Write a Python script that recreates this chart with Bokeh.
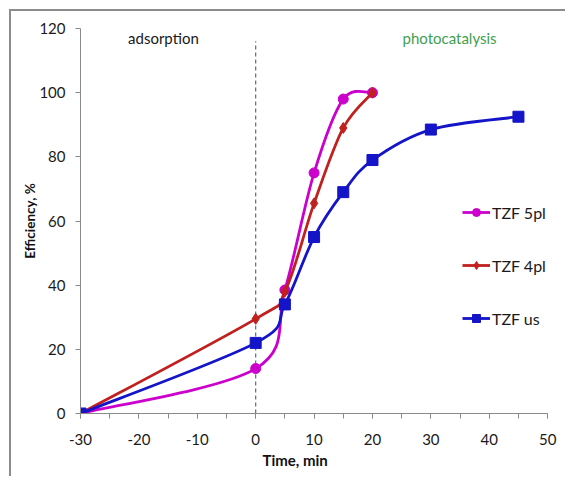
import numpy as np
from bokeh.plotting import figure
from bokeh.models import (Legend, LegendItem, Label, FixedTicker, Range1d,
                          CustomJSTickFormatter, Title)
from bokeh.embed import file_html
from bokeh.resources import INLINE

# ---- data ----
time_5pl = [-30, 0, 5, 10, 15, 20]
eff_5pl = [0, 14, 38.5, 75, 98, 100]
time_4pl = [-30, 0, 5, 10, 15, 20]
eff_4pl = [0, 29.5, 38, 65.5, 89, 100]
time_us = [-30, 0, 5, 10, 15, 20, 30, 45]
eff_us = [0, 22, 34, 55, 69, 79, 88.5, 92.5]

series_names = ["TZF 5pl", "TZF 4pl", "TZF us"]
x_ticks = [-30, -20, -10, 0, 10, 20, 30, 40, 50]
x_minor_ticks = [-30, -25, -20, -15, -10, -5, 0, 5, 10, 15, 20, 25, 30, 35, 40, 45, 50]
y_ticks = [0, 20, 40, 60, 80, 100, 120]
light_on_time = 0
boundary_top = 116
phase_labels = ["adsorption", "photocatalysis"]
phase_label_x = [-15.8, 33.2]
phase_label_y = 117.0
x_title = "Time, min"
y_title = "Efficiency, %"

FONT = "Lato"


def smooth_segments(xs, ys):
    """Excel-style smoothed line: cubic Bezier control points from neighbours."""
    x = np.asarray(xs, float)
    y = np.asarray(ys, float)
    n = len(x)
    d = dict(x0=[], y0=[], x1=[], y1=[], cx0=[], cy0=[], cx1=[], cy1=[])
    for i in range(n - 1):
        xp, yp = (x[i - 1], y[i - 1]) if i > 0 else (x[i], y[i])
        xn, yn = (x[i + 2], y[i + 2]) if i + 2 < n else (x[i + 1], y[i + 1])
        d["x0"].append(x[i]); d["y0"].append(y[i])
        d["x1"].append(x[i + 1]); d["y1"].append(y[i + 1])
        d["cx0"].append(x[i] + (x[i + 1] - xp) / 6.0)
        d["cy0"].append(y[i] + (y[i + 1] - yp) / 6.0)
        d["cx1"].append(x[i + 1] - (xn - x[i]) / 6.0)
        d["cy1"].append(y[i + 1] - (yn - y[i]) / 6.0)
    return d


# frame spans past x=50 so the legend on the right is not clipped;
# the axis line itself is bounded to -30..50
p = figure(
    width=556, height=467,
    x_range=Range1d(-30, 53.4), y_range=Range1d(0, 120),
    output_backend="svg", toolbar_location=None,
    min_border_left=69, min_border_right=0, min_border_top=17, min_border_bottom=65,
)
p.styles = {
    "margin-left": "9px", "margin-top": "9px",
    "border-left": "2px solid #8c8c8c", "border-top": "2px solid #8c8c8c",
}
p.outline_line_color = None
p.xgrid.visible = False
p.ygrid.visible = False
p.background_fill_color = "white"
p.border_fill_color = "white"

axis_color = "#8a8a8a"
for ax in (p.xaxis[0], p.yaxis[0]):
    ax.axis_line_color = axis_color
    ax.major_tick_line_color = axis_color
    ax.minor_tick_line_color = axis_color
    ax.major_tick_in = 0
    ax.major_tick_out = 5
    ax.minor_tick_in = 0
    ax.minor_tick_out = 5
    ax.formatter = CustomJSTickFormatter(code="return String(tick);")
    ax.major_label_text_font = FONT
    ax.major_label_text_font_size = "15px"
    ax.major_label_text_color = "#1a1a1a"
    ax.axis_label_text_font = FONT
    ax.axis_label_text_font_size = "13.5px"
    ax.axis_label_text_font_style = "bold"
    ax.axis_label_text_color = "#111111"

xa = p.xaxis[0]
xa.ticker = FixedTicker(ticks=x_ticks, minor_ticks=x_minor_ticks)
xa.bounds = (x_ticks[0], x_ticks[-1])
xa.major_label_standoff = 15

ya = p.yaxis[0]
ya.ticker = FixedTicker(ticks=y_ticks)
ya.bounds = (y_ticks[0], y_ticks[-1])
ya.minor_tick_line_color = None
ya.major_label_standoff = 10
ya.axis_label = y_title
ya.axis_label_standoff = -2

# x-axis title sits below the axis, left of the frame centre as in the reference
p.add_layout(Title(text=x_title, align="left", offset=182, standoff=2,
                   text_font=FONT, text_font_size="15px",
                   text_font_style="bold", text_color="#111111"), "below")

# phase boundary
p.segment(x0=[light_on_time], y0=[0], x1=[light_on_time], y1=[boundary_top],
          line_color="#4f6f8f", line_width=1.2, line_dash="4 3")

for txt, lx, col in zip(phase_labels, phase_label_x, ["#1a1a1a", "#3f9f4f"]):
    p.add_layout(Label(x=lx, y=phase_label_y, text=txt, text_align="center",
                       text_baseline="middle", text_font=FONT,
                       text_font_size="15px", text_color=col))

styles = [
    (time_5pl, eff_5pl, "#cc00cc", "circle", 10),
    (time_4pl, eff_4pl, "#c0201e", "diamond", 11),
    (time_us, eff_us, "#1414c8", "square", 11),
]

items = []
for name, (xs, ys, col, mk, sz) in zip(series_names, styles):
    seg = smooth_segments(xs, ys)
    p.bezier(x0="x0", y0="y0", x1="x1", y1="y1", cx0="cx0", cy0="cy0",
             cx1="cx1", cy1="cy1", source=seg, line_color=col, line_width=2.8)
    # legend-only line sample (a single NaN point draws nothing on the plot)
    leg_line = p.line(x=[np.nan], y=[np.nan], line_color=col, line_width=2.8)
    sc = p.scatter(xs, ys, marker=mk, size=sz, fill_color=col, line_color=col)
    items.append(LegendItem(label=name, renderers=[leg_line, sc]))

legend = Legend(items=items, location=(382, 85), padding=0, margin=0,
                spacing=33, glyph_width=28, glyph_height=20, label_height=20,
                label_standoff=2, border_line_color=None,
                background_fill_alpha=0, label_text_font=FONT,
                label_text_font_size="16px", label_text_color="#1a1a1a")
p.add_layout(legend)

open("out.html", "w").write(file_html(p, INLINE))
